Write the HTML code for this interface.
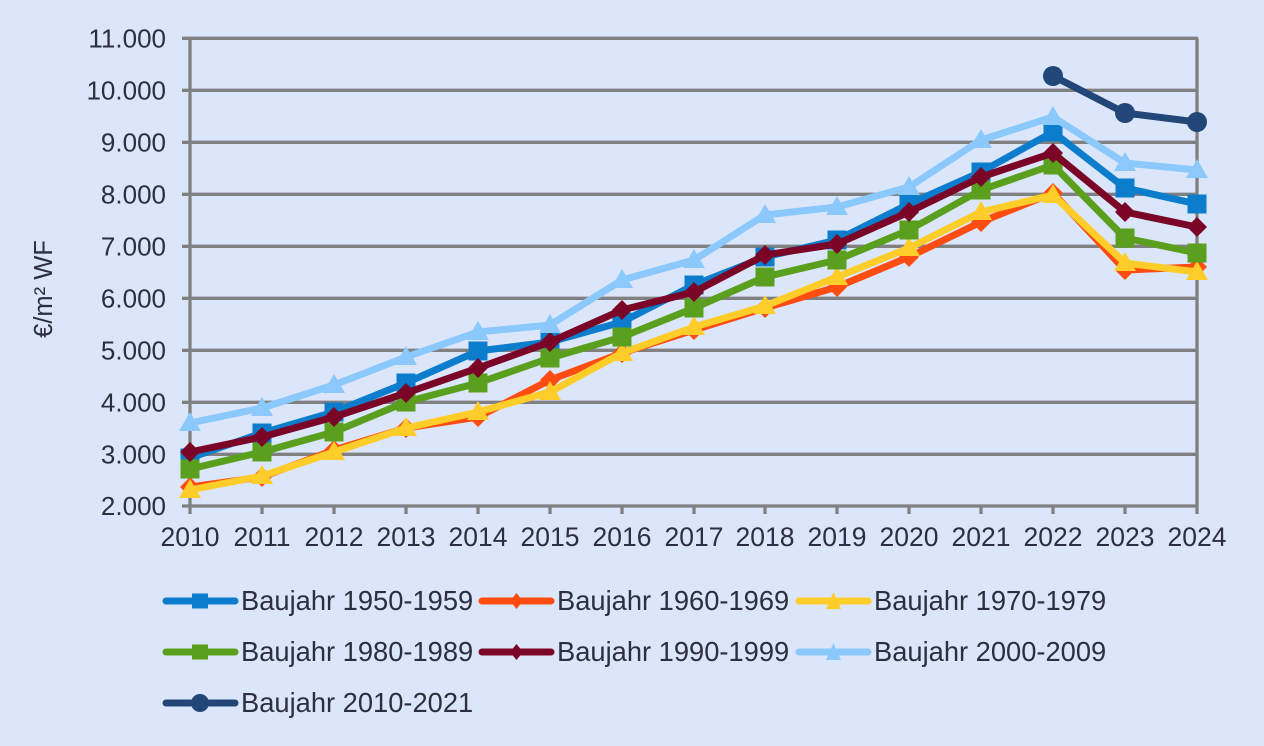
<!DOCTYPE html>
<html><head><meta charset="utf-8"><style>
html,body{margin:0;padding:0;background:#dce6fb;}
svg{display:block;}
text{font-family:"Liberation Sans",Arial,sans-serif;fill:#2b2f3f;}
</style></head><body>
<svg width="1264" height="746" viewBox="0 0 1264 746" xmlns="http://www.w3.org/2000/svg">
<rect width="1264" height="746" fill="#dce6fb"/>
<g stroke="#808080" stroke-width="3.3" fill="none">
<line x1="182" y1="38.3" x2="1198" y2="38.3"/>
<line x1="182" y1="90.3" x2="1198" y2="90.3"/>
<line x1="182" y1="142.3" x2="1198" y2="142.3"/>
<line x1="182" y1="194.3" x2="1198" y2="194.3"/>
<line x1="182" y1="246.3" x2="1198" y2="246.3"/>
<line x1="182" y1="298.3" x2="1198" y2="298.3"/>
<line x1="182" y1="350.3" x2="1198" y2="350.3"/>
<line x1="182" y1="402.3" x2="1198" y2="402.3"/>
<line x1="182" y1="454.3" x2="1198" y2="454.3"/>
<line x1="182" y1="506" x2="1198" y2="506"/>
<line x1="190" y1="38" x2="190" y2="514"/>
<line x1="1197" y1="38" x2="1197" y2="514"/>
<line x1="262" y1="506" x2="262" y2="514"/>
<line x1="334" y1="506" x2="334" y2="514"/>
<line x1="406" y1="506" x2="406" y2="514"/>
<line x1="478" y1="506" x2="478" y2="514"/>
<line x1="550" y1="506" x2="550" y2="514"/>
<line x1="622" y1="506" x2="622" y2="514"/>
<line x1="694" y1="506" x2="694" y2="514"/>
<line x1="765" y1="506" x2="765" y2="514"/>
<line x1="837" y1="506" x2="837" y2="514"/>
<line x1="909" y1="506" x2="909" y2="514"/>
<line x1="981" y1="506" x2="981" y2="514"/>
<line x1="1053" y1="506" x2="1053" y2="514"/>
<line x1="1125" y1="506" x2="1125" y2="514"/>
</g>
<g font-size="26" text-anchor="end">
<text x="166" y="47.5">11.000</text>
<text x="166" y="99.5">10.000</text>
<text x="166" y="151.5">9.000</text>
<text x="166" y="203.5">8.000</text>
<text x="166" y="255.5">7.000</text>
<text x="166" y="307.5">6.000</text>
<text x="166" y="359.5">5.000</text>
<text x="166" y="411.5">4.000</text>
<text x="166" y="463.5">3.000</text>
<text x="166" y="515">2.000</text>
</g>
<g font-size="26.5" text-anchor="middle">
<text x="190" y="546">2010</text><text x="262" y="546">2011</text><text x="334" y="546">2012</text>
<text x="406" y="546">2013</text><text x="478" y="546">2014</text><text x="550" y="546">2015</text>
<text x="622" y="546">2016</text><text x="694" y="546">2017</text><text x="765" y="546">2018</text>
<text x="837" y="546">2019</text><text x="909" y="546">2020</text><text x="981" y="546">2021</text>
<text x="1053" y="546">2022</text><text x="1125" y="546">2023</text><text x="1197" y="546">2024</text>
</g>
<text x="0" y="0" font-size="25.5" text-anchor="middle" transform="translate(52,289) rotate(-90)">€/m² WF</text>

<defs>
<rect id="sq" x="-9.5" y="-9.5" width="19" height="19"/>
<polygon id="di" points="0,-10 10,0 0,10 -10,0"/>
<polygon id="tr" points="0,-11 11,8 -11,8"/>
<circle id="ci" r="10"/>
</defs>

<g fill="none" stroke-width="7" stroke-linejoin="round" stroke-linecap="round">
<polyline stroke="#0c7dcd" points="190,458 262,433 334,412 406,383 478,351 550,342 622,322 694,285 765,257 837,240 909,204 981,172 1053,132 1125,188 1197,204"/>
</g>
<g fill="#0c7dcd">
<use href="#sq" x="190" y="458"/><use href="#sq" x="262" y="433"/><use href="#sq" x="334" y="412"/><use href="#sq" x="406" y="383"/><use href="#sq" x="478" y="351"/><use href="#sq" x="550" y="342"/><use href="#sq" x="622" y="322"/><use href="#sq" x="694" y="285"/><use href="#sq" x="765" y="257"/><use href="#sq" x="837" y="240"/><use href="#sq" x="909" y="204"/><use href="#sq" x="981" y="172"/><use href="#sq" x="1053" y="132"/><use href="#sq" x="1125" y="188"/><use href="#sq" x="1197" y="204"/>
</g>

<g fill="none" stroke-width="7" stroke-linejoin="round" stroke-linecap="round">
<polyline stroke="#ff4d12" points="190,487 262,477 334,450 406,428 478,417 550,380 622,353 694,330 765,308 837,287 909,257 981,222 1053,193 1125,270 1197,267"/>
</g>
<g fill="#ff4d12">
<use href="#di" x="190" y="487"/><use href="#di" x="262" y="477"/><use href="#di" x="334" y="450"/><use href="#di" x="406" y="428"/><use href="#di" x="478" y="417"/><use href="#di" x="550" y="380"/><use href="#di" x="622" y="353"/><use href="#di" x="694" y="330"/><use href="#di" x="765" y="308"/><use href="#di" x="837" y="287"/><use href="#di" x="909" y="257"/><use href="#di" x="981" y="222"/><use href="#di" x="1053" y="193"/><use href="#di" x="1125" y="270"/><use href="#di" x="1197" y="267"/>
</g>

<g fill="none" stroke-width="7" stroke-linejoin="round" stroke-linecap="round">
<polyline stroke="#ffcd2a" points="190,490 262,476 334,452 406,428 478,412 550,392 622,353 694,327 765,306 837,277 909,248 981,212 1053,195 1125,263 1197,272"/>
</g>
<g fill="#ffcd2a">
<use href="#tr" x="190" y="490"/><use href="#tr" x="262" y="476"/><use href="#tr" x="334" y="452"/><use href="#tr" x="406" y="428"/><use href="#tr" x="478" y="412"/><use href="#tr" x="550" y="392"/><use href="#tr" x="622" y="353"/><use href="#tr" x="694" y="327"/><use href="#tr" x="765" y="306"/><use href="#tr" x="837" y="277"/><use href="#tr" x="909" y="248"/><use href="#tr" x="981" y="212"/><use href="#tr" x="1053" y="195"/><use href="#tr" x="1125" y="263"/><use href="#tr" x="1197" y="272"/>
</g>

<g fill="none" stroke-width="7" stroke-linejoin="round" stroke-linecap="round">
<polyline stroke="#5aa01e" points="190,469 262,452 334,432 406,402 478,383 550,358 622,337 694,308 765,277 837,260 909,230 981,190 1053,165 1125,238 1197,253"/>
</g>
<g fill="#5aa01e">
<use href="#sq" x="190" y="469"/><use href="#sq" x="262" y="452"/><use href="#sq" x="334" y="432"/><use href="#sq" x="406" y="402"/><use href="#sq" x="478" y="383"/><use href="#sq" x="550" y="358"/><use href="#sq" x="622" y="337"/><use href="#sq" x="694" y="308"/><use href="#sq" x="765" y="277"/><use href="#sq" x="837" y="260"/><use href="#sq" x="909" y="230"/><use href="#sq" x="981" y="190"/><use href="#sq" x="1053" y="165"/><use href="#sq" x="1125" y="238"/><use href="#sq" x="1197" y="253"/>
</g>

<g fill="none" stroke-width="7" stroke-linejoin="round" stroke-linecap="round">
<polyline stroke="#7a0526" points="190,452 262,437 334,417 406,393 478,368 550,342 622,310 694,292 765,255 837,244 909,212 981,177 1053,153 1125,212 1197,227"/>
</g>
<g fill="#7a0526">
<use href="#di" x="190" y="452"/><use href="#di" x="262" y="437"/><use href="#di" x="334" y="417"/><use href="#di" x="406" y="393"/><use href="#di" x="478" y="368"/><use href="#di" x="550" y="342"/><use href="#di" x="622" y="310"/><use href="#di" x="694" y="292"/><use href="#di" x="765" y="255"/><use href="#di" x="837" y="244"/><use href="#di" x="909" y="212"/><use href="#di" x="981" y="177"/><use href="#di" x="1053" y="153"/><use href="#di" x="1125" y="212"/><use href="#di" x="1197" y="227"/>
</g>

<g fill="none" stroke-width="7" stroke-linejoin="round" stroke-linecap="round">
<polyline stroke="#8bc8fc" points="190,423 262,408 334,385 406,357 478,332 550,325 622,280 694,260 765,215 837,207 909,187 981,140 1053,117 1125,163 1197,170"/>
</g>
<g fill="#8bc8fc">
<use href="#tr" x="190" y="423"/><use href="#tr" x="262" y="408"/><use href="#tr" x="334" y="385"/><use href="#tr" x="406" y="357"/><use href="#tr" x="478" y="332"/><use href="#tr" x="550" y="325"/><use href="#tr" x="622" y="280"/><use href="#tr" x="694" y="260"/><use href="#tr" x="765" y="215"/><use href="#tr" x="837" y="207"/><use href="#tr" x="909" y="187"/><use href="#tr" x="981" y="140"/><use href="#tr" x="1053" y="117"/><use href="#tr" x="1125" y="163"/><use href="#tr" x="1197" y="170"/>
</g>

<g fill="none" stroke-width="7" stroke-linejoin="round" stroke-linecap="round">
<polyline stroke="#234679" points="1053,76 1125,113 1197,122"/>
</g>
<g fill="#234679">
<use href="#ci" x="1053" y="76"/><use href="#ci" x="1125" y="113"/><use href="#ci" x="1197" y="122"/>
</g>

<!-- legend -->
<g stroke-width="7" stroke-linecap="round">
<line x1="166" y1="601" x2="235" y2="601" stroke="#0c7dcd"/>
<line x1="482" y1="601" x2="551" y2="601" stroke="#ff4d12"/>
<line x1="799" y1="601" x2="868" y2="601" stroke="#ffcd2a"/>
<line x1="166" y1="652" x2="235" y2="652" stroke="#5aa01e"/>
<line x1="482" y1="652" x2="551" y2="652" stroke="#7a0526"/>
<line x1="799" y1="652" x2="868" y2="652" stroke="#8bc8fc"/>
<line x1="166" y1="703" x2="235" y2="703" stroke="#234679"/>
</g>
<rect x="192" y="593.5" width="16" height="15" fill="#0c7dcd"/>
<polygon points="516.5,593 523,601 516.5,609 510,601" fill="#ff4d12"/>
<polygon points="833.5,592 841,609 826,609" fill="#ffcd2a"/>
<rect x="192" y="644.5" width="16" height="15" fill="#5aa01e"/>
<polygon points="516.5,644 523,652 516.5,660 510,652" fill="#7a0526"/>
<polygon points="833.5,643 841,660 826,660" fill="#8bc8fc"/>
<circle cx="200" cy="703" r="9" fill="#234679"/>
<g font-size="27.3">
<text x="241" y="610">Baujahr 1950-1959</text>
<text x="557" y="610">Baujahr 1960-1969</text>
<text x="874" y="610">Baujahr 1970-1979</text>
<text x="241" y="661">Baujahr 1980-1989</text>
<text x="557" y="661">Baujahr 1990-1999</text>
<text x="874" y="661">Baujahr 2000-2009</text>
<text x="241" y="712">Baujahr 2010-2021</text>
</g>
</svg>
</body></html>
